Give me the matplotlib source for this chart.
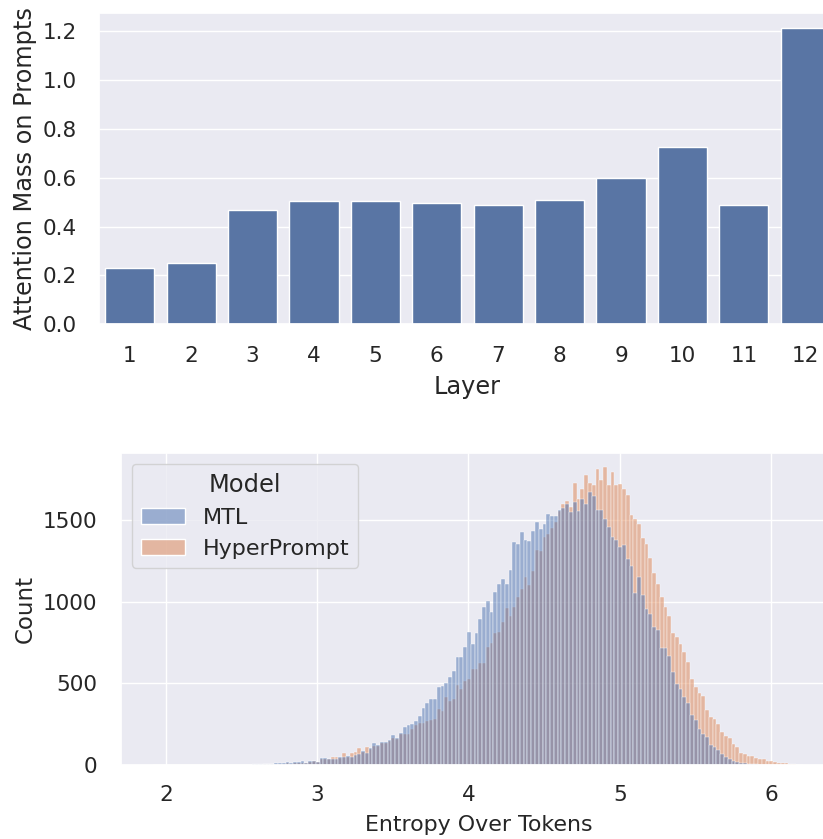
import numpy as np
import pandas as pd
import seaborn as sns
import matplotlib
matplotlib.use("Agg")
import matplotlib.pyplot as plt

# attention mass per layer (top panel)
layers = [1, 2, 3, 4, 5, 6, 7, 8, 9, 10, 11, 12]
attention_mass = [0.231, 0.251, 0.466, 0.506, 0.506, 0.495, 0.488, 0.508, 0.597, 0.727, 0.487, 1.216]

# entropy histogram (bottom panel), counts per bin
bin_start = 1.915
bin_width = 0.025

mtl_counts = [
    1, 0, 0, 0, 0, 0, 0, 0, 0, 0, 0, 0, 0, 0, 0, 0, 0, 1, 0, 1, 0, 1, 2,
    2, 2, 3, 4, 4, 5, 7, 8, 9, 11, 12, 10, 16, 14, 20, 18,
    27, 14, 27, 27, 18, 43, 43, 39, 35, 35, 47, 47, 55, 47, 59, 67,
    84, 71, 104, 133, 120, 143, 143, 153, 182, 165, 198, 230, 245, 251, 271, 300,
    347, 382, 404, 404, 479, 483, 504, 541, 573, 663, 659, 722, 812, 743,
    810, 896, 965, 1004, 938, 1059, 1106, 1140, 1108, 1193, 1367, 1355, 1428,
    1379, 1371, 1432, 1485, 1444, 1475, 1536, 1526, 1524, 1560, 1571, 1595, 1550,
    1611, 1558, 1626, 1597, 1673, 1650, 1564, 1562, 1509, 1460, 1397, 1377, 1336, 1346,
    1261, 1220, 1056, 1152, 1038, 957, 926, 846, 824, 714, 714, 665, 569, 498, 463,
    414, 377, 306, 275, 222, 192, 173, 124, 110, 94, 69, 51, 37, 25,
    20, 15, 10, 8, 5, 4, 3, 2, 2, 1, 1, 1, 0, 0, 1, 0, 0, 0,
]
hyper_counts = [
    0, 0, 0, 0, 0, 0, 0, 0, 0, 0, 0, 0, 0, 0, 0, 0, 0, 0, 1, 0, 1, 1, 1,
    1, 1, 2, 2, 3, 3, 4, 5, 6, 7, 8, 7, 10, 9, 14, 12,
    14, 14, 20, 22, 18, 35, 39, 35, 51, 51, 43, 71, 51, 71, 78, 102,
    80, 108, 96, 116, 116, 137, 133, 149, 165, 161, 190, 190, 190, 218, 243, 255,
    259, 271, 275, 284, 341, 330, 418, 394, 406, 490, 467, 514, 528, 588,
    588, 624, 626, 724, 745, 806, 816, 873, 963, 912, 965, 1026, 1079,
    1152, 1101, 1187, 1316, 1309, 1397, 1414, 1452, 1489, 1555, 1597, 1615, 1581,
    1726, 1628, 1691, 1773, 1728, 1713, 1813, 1742, 1822, 1713, 1795, 1713, 1719, 1691,
    1652, 1530, 1505, 1473, 1391, 1354, 1267, 1177, 1108, 1026, 969, 914, 806, 783, 740,
    689, 632, 528, 477, 438, 424, 336, 291, 281, 249, 200, 177, 165, 126,
    110, 76, 68, 55, 55, 43, 39, 35, 23, 23, 19, 15, 15, 10, 8, 5, 3, 1,
]
model_names = ["MTL", "HyperPrompt"]

sns.set_theme(style="darkgrid", font_scale=1.35)

fig = plt.figure(figsize=(8.23, 8.39), dpi=100)

# top: barplot (right end runs past the figure edge like the reference)
ax1 = fig.add_axes([0.1203, 0.6138, 0.8955, 0.3710])
sns.barplot(x=layers, y=attention_mass, color="C0", ax=ax1)
ax1.set_xlabel("Layer", fontsize=17.3, labelpad=6)
ax1.set_ylabel("Attention Mass on Prompts", fontsize=17.3)
ax1.set_yticks([0.0, 0.2, 0.4, 0.6, 0.8, 1.0, 1.2])
ax1.tick_params(axis="both", labelsize=15.5, pad=10)

# bottom: layered histogram
n_bins = len(mtl_counts)
centers = bin_start + bin_width * (np.arange(n_bins) + 0.5)
df = pd.DataFrame({
    "entropy": np.concatenate([centers, centers]),
    "count": mtl_counts + hyper_counts,
    "Model": [model_names[0]] * n_bins + [model_names[1]] * n_bins,
})

ax2 = fig.add_axes([0.1467, 0.0882, 0.869, 0.3722])
sns.histplot(data=df, x="entropy", weights="count", hue="Model",
             hue_order=model_names, bins=n_bins,
             binrange=(bin_start, bin_start + n_bins * bin_width), ax=ax2)
ax2.set_xlim(1.70, 6.43)
ax2.set_ylim(0, 1912)
ax2.set_xticks([2, 3, 4, 5, 6])
ax2.set_yticks([0, 500, 1000, 1500])
ax2.set_xlabel("Entropy Over Tokens", fontsize=15.9, labelpad=7)
ax2.set_ylabel("Count", fontsize=16.5)
ax2.tick_params(axis="y", labelsize=15.5, pad=11)
ax2.tick_params(axis="x", labelsize=15.5, pad=8.5)
sns.move_legend(ax2, "upper left", fontsize=16, title_fontsize=17.4)

fig.savefig("out.png", dpi=100)
